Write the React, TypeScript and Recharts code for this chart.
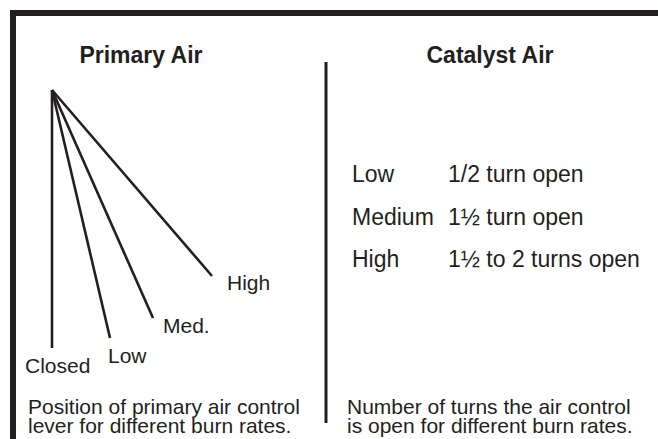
import React from 'react';
import { ComposedChart, XAxis, YAxis, ReferenceLine, Scatter } from 'recharts';

const W = 658;
const H = 439;

// Diagram coordinates (pixel-like units on hidden numeric axes)
const pivotX = 52;
const pivotY = 90;
const leverLabels = ['Closed', 'Low', 'Med.', 'High'];
const leverEndX = [52, 110, 153, 212];
const leverEndY = [348, 338, 318, 276];
const leverLabelX = [25, 108, 163, 227];
const leverLabelY = [373, 363, 333, 290];

const titles = ['Primary Air', 'Catalyst Air'];
const titleX = [141, 490];
const titleY = 63;

const rateLabels = ['Low', 'Medium', 'High'];
const catalystTurns = ['1/2 turn open', '1½ turn open', '1½ to 2 turns open'];
const rateX = 352;
const turnsX = 448;
const rowY = [182, 225, 267];

const leftCaption = ['Position of primary air control', 'lever for different burn rates.'];
const rightCaption = ['Number of turns the air control', 'is open for different burn rates.'];
const leftCaptionX = 28;
const rightCaptionX = 347;
const captionY = [414, 433];

const dividerX = 326;
const dividerY = [62, 423];

const INK = '#231f20';
const FONT = '"Liberation Sans", Arial, Helvetica, sans-serif';

type Item = { x: number; y: number; text: string; size: number; weight: string; anchor: string };

const items: Item[] = [
  ...titles.map((t, i) => ({ x: titleX[i], y: titleY, text: t, size: 23, weight: 'bold', anchor: 'middle' })),
  ...leverLabels.map((t, i) => ({ x: leverLabelX[i], y: leverLabelY[i], text: t, size: 21, weight: 'normal', anchor: 'start' })),
  ...rateLabels.map((t, i) => ({ x: rateX, y: rowY[i], text: t, size: 23, weight: 'normal', anchor: 'start' })),
  ...catalystTurns.map((t, i) => ({ x: turnsX, y: rowY[i], text: t, size: 23, weight: 'normal', anchor: 'start' })),
  ...leftCaption.map((t, i) => ({ x: leftCaptionX, y: captionY[i], text: t, size: 21, weight: 'normal', anchor: 'start' })),
  ...rightCaption.map((t, i) => ({ x: rightCaptionX, y: captionY[i], text: t, size: 21, weight: 'normal', anchor: 'start' })),
];

const TextShape = (props: any) => {
  const { cx, cy, payload } = props;
  return (
    <text
      x={cx}
      y={cy}
      fill={INK}
      fontFamily={FONT}
      fontSize={payload.size}
      fontWeight={payload.weight}
      textAnchor={payload.anchor}
    >
      {payload.text}
    </text>
  );
};

export default function App() {
  return (
    <div style={{ position: 'absolute', left: 0, top: 0, width: W, height: H, background: '#fff' }}>
      <ComposedChart width={W} height={H} margin={{ top: 0, right: 0, bottom: 0, left: 0 }}>
        <XAxis type="number" dataKey="x" domain={[0, W]} hide allowDataOverflow />
        <YAxis type="number" dataKey="y" domain={[0, H]} reversed hide allowDataOverflow />
        {/* frame */}
        <ReferenceLine segment={[{ x: 10, y: 13 }, { x: W, y: 13 }]} stroke={INK} strokeWidth={6} />
        <ReferenceLine segment={[{ x: 13, y: 10 }, { x: 13, y: H }]} stroke={INK} strokeWidth={6} />
        {/* divider */}
        <ReferenceLine
          segment={[{ x: dividerX, y: dividerY[0] }, { x: dividerX, y: dividerY[1] }]}
          stroke={INK}
          strokeWidth={3}
        />
        {/* levers */}
        {leverLabels.map((l, i) => (
          <ReferenceLine
            key={l}
            segment={[{ x: pivotX, y: pivotY }, { x: leverEndX[i], y: leverEndY[i] }]}
            stroke={INK}
            strokeWidth={2.6}
          />
        ))}
        <Scatter data={items} shape={TextShape} isAnimationActive={false} />
      </ComposedChart>
    </div>
  );
}
